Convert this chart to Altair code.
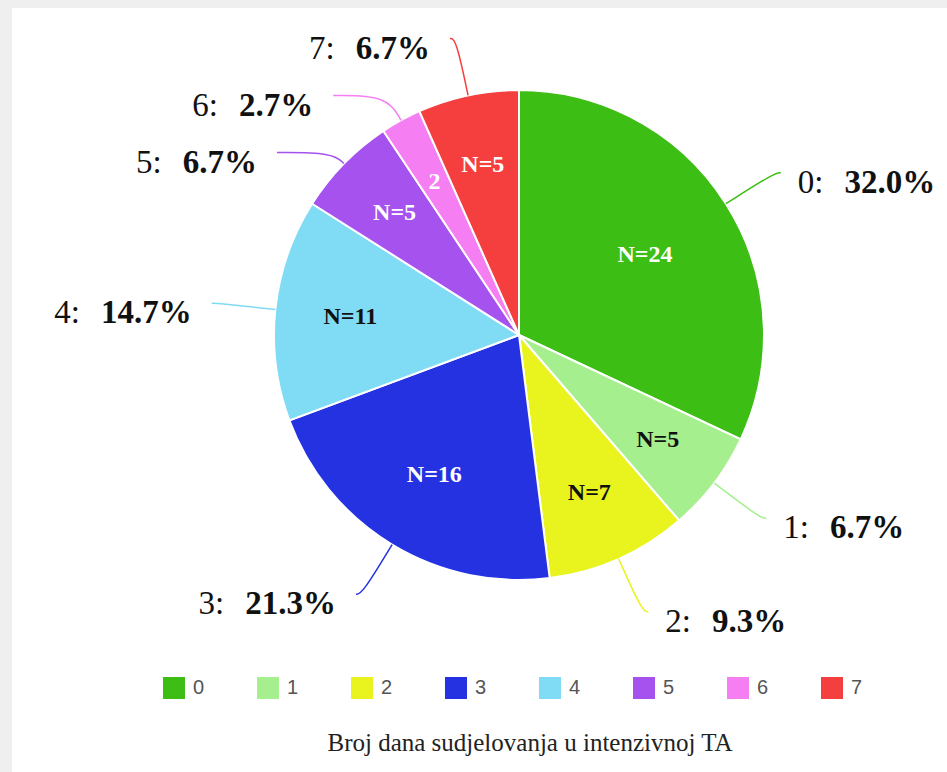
import math

import altair as alt
import pandas as pd

# Days of intensive physical activity (TA) and number of respondents
categories = ["0", "1", "2", "3", "4", "5", "6", "7"]
counts = [24, 5, 7, 16, 11, 5, 2, 5]
colors = ["#3cbe14", "#a6ef8e", "#e9f31e", "#2532e2", "#7fdcf4", "#a552ef", "#f57ef3", "#f53f3f"]
dark_text = [False, True, True, False, True, False, False, False]
title_text = "Broj dana sudjelovanja u intenzivnoj TA"

# Canvas / layout settings
W, H = 935, 764
CX, CY = 507, 327          # pie centre inside the view
R = 245                    # pie radius
R_ELBOW = 303              # where leader lines bend
MIN_GAP = 57               # min vertical distance between outer labels
LABEL_SIZE = 33
SERIF = "Liberation Serif"

# Times-compatible glyph widths (em units) to line up regular + bold parts
REG_W = {":": 0.278, " ": 0.25}
BOLD_W = {".": 0.25, "%": 1.0}


def text_width(s, table, size):
    return sum(table.get(ch, 0.5) for ch in s) * size


total = sum(counts)
rows, inner, outer, lines = [], [], [], []
cum = 0
for i, (cat, n) in enumerate(zip(categories, counts)):
    share = n / total
    mid = (cum + n / 2) / total * 2 * math.pi
    cum += n
    # inner label sits a little outside the sector's centroid
    half = share * math.pi
    r_in = 2 * R * math.sin(half) / (3 * half) + 12
    rows.append({"cat": cat, "count": n, "idx": i})
    inner.append({
        "x": CX + r_in * math.sin(mid),
        "y": CY - r_in * math.cos(mid),
        "lab": f"N={n}" if share >= 0.04 else str(n),
        "tc": "#111111" if dark_text[i] else "#ffffff",
    })
    outer.append({
        "cat": cat, "mid": mid, "pct": f"{share * 100:.1f}%",
        "side": 1 if math.sin(mid) >= 0 else -1,
        "y": CY - R_ELBOW * math.cos(mid),
        "hex": colors[i],
    })

# push overlapping outer labels downward on each side
for side in (1, -1):
    group = sorted([o for o in outer if o["side"] == side], key=lambda o: o["y"])
    for a, b in zip(group, group[1:]):
        if b["y"] - a["y"] < MIN_GAP:
            b["y"] = a["y"] + MIN_GAP

prefix_rows, value_rows = [], []
for o in outer:
    s, c = math.sin(o["mid"]), math.cos(o["mid"])
    p0 = (CX + R * s, CY - R * c)
    t = (CY - o["y"]) / c if abs(c) > 1e-6 else R_ELBOW
    t = min(max(t, R + 8), R_ELBOW)
    elbow = (CX + t * s, o["y"])
    dy = CY - o["y"]
    end_x = CX + o["side"] * math.sqrt(max(R_ELBOW ** 2 - dy ** 2, 0))
    if o["side"] * (end_x - elbow[0]) < 6:
        end_x = elbow[0] + o["side"] * 6
    for k, (px, py) in enumerate([p0, elbow, (end_x, o["y"])]):
        lines.append({"cat": o["cat"], "pt": k, "px": px, "py": py, "hex": o["hex"]})

    prefix = f"{o['cat']}:"
    pw = text_width(prefix, REG_W, LABEL_SIZE)
    vw = text_width(o["pct"], BOLD_W, LABEL_SIZE)
    gap = 21
    ty = o["y"] + 10
    if o["side"] > 0:
        start = end_x + 17
        prefix_rows.append({"x": start, "y": ty, "t": prefix})
        value_rows.append({"x": start + pw + gap, "y": ty, "t": o["pct"]})
    else:
        stop = end_x - 20
        value_rows.append({"x": stop - vw, "y": ty, "t": o["pct"]})
        prefix_rows.append({"x": stop - vw - gap - pw, "y": ty, "t": prefix})

slices = pd.DataFrame(rows)
inner_df = pd.DataFrame(inner)
lines_df = pd.DataFrame(lines)
prefix_df = pd.DataFrame(prefix_rows)
value_df = pd.DataFrame(value_rows)

px_x = lambda f: alt.X(f, scale=None, axis=None)
px_y = lambda f: alt.Y(f, scale=None, axis=None)

arcs = alt.Chart(slices).mark_arc(outerRadius=R, stroke="white", strokeWidth=2).encode(
    theta=alt.Theta("count:Q", stack=True),
    order=alt.Order("idx:Q"),
    color=alt.Color(
        "cat:N",
        sort=categories,
        scale=alt.Scale(domain=categories, range=colors),
        legend=alt.Legend(
            orient="none", legendX=151, legendY=669, direction="horizontal",
            columns=8, title=None, symbolType="square", symbolSize=484,
            symbolStrokeWidth=0, symbolOpacity=1, labelFont="Liberation Sans",
            labelFontSize=20, labelColor="#555555", labelOffset=8,
            columnPadding=52, padding=0,
        ),
    ),
    x=alt.value(CX),
    y=alt.value(CY),
)

leader = alt.Chart(lines_df).mark_line(strokeWidth=1.5, interpolate="basis").encode(
    x=px_x("px:Q"), y=px_y("py:Q"), detail="cat:N", order="pt:Q",
    color=alt.Color("hex:N", scale=None),
)

inner_text = alt.Chart(inner_df).mark_text(
    font=SERIF, fontWeight="bold", fontSize=24, baseline="middle"
).encode(x=px_x("x:Q"), y=px_y("y:Q"), text="lab:N", color=alt.Color("tc:N", scale=None))

prefix_text = alt.Chart(prefix_df).mark_text(
    font=SERIF, fontSize=LABEL_SIZE, align="left", baseline="middle", color="#111111"
).encode(x=px_x("x:Q"), y=px_y("y:Q"), text="t:N")

value_text = alt.Chart(value_df).mark_text(
    font=SERIF, fontSize=LABEL_SIZE, fontWeight="bold", align="left",
    baseline="middle", color="#111111"
).encode(x=px_x("x:Q"), y=px_y("y:Q"), text="t:N")

caption = alt.Chart(pd.DataFrame({"t": [title_text]})).mark_text(
    font=SERIF, fontSize=25, color="#222222", baseline="middle"
).encode(x=alt.value(518), y=alt.value(735), text="t:N")

chart = (
    alt.layer(arcs, leader, inner_text, prefix_text, value_text, caption)
    .properties(width=W, height=H, autosize="none",
                padding={"left": 12, "top": 8, "right": 0, "bottom": 0})
    .configure(background="#efefef")
    .configure_view(fill="white", stroke=None)
)

chart.save("out.html", embed_options={"renderer": "svg", "actions": False})
